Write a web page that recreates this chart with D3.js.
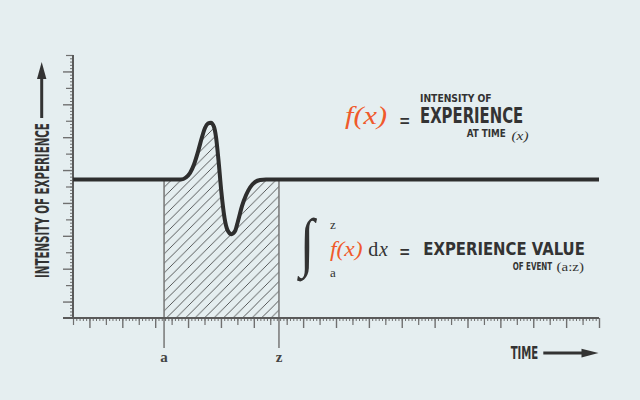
<!DOCTYPE html>
<html>
<head>
<meta charset="utf-8">
<script src="https://cdn.jsdelivr.net/npm/d3@7"></script>
<style>
  html, body { margin: 0; padding: 0; background: #e5eef0; }
  svg { display: block; }
</style>
</head>
<body>
<svg id="chart" width="640" height="400"></svg>
<script>
// ---- data ----
const timeValues = [0, 5.54, 6.57, 6.87, 7.12, 7.36, 7.60, 7.85, 8.03, 8.21, 8.39, 8.58, 8.70, 8.85,
  9.02, 9.22, 9.40, 9.64, 9.86, 10.04, 10.28, 10.53, 10.77, 11.07, 11.38, 11.74, 12.53, 32];
const intensityValues = [8.43, 8.43, 8.43, 8.55, 8.82, 9.34, 10.10, 11.01, 11.56, 11.83, 11.88, 11.62, 11.01, 9.61,
  7.73, 6.08, 5.35, 5.10, 5.29, 5.90, 6.81, 7.48, 7.94, 8.27, 8.40, 8.43, 8.43, 8.43];
const eventStart = 5.54;   // a
const eventEnd = 12.53;    // z
const eventLabels = ["a", "z"];
const yAxisTitle = "INTENSITY OF EXPERIENCE";
const xAxisTitle = "TIME";
// long ruler ticks on the time axis (the ruler changes phase after z)
const xLongTicks = [1, 3, 5, 7, 9, 11, 14, 16, 18, 20, 22, 24, 26, 28, 30, 32];

const data = timeValues.map((t, i) => ({ t, v: intensityValues[i] }));

// ---- layout ----
const svg = d3.select("#chart");
const ink = "#2e2e2e";
const tickCol = "#707070";
const orange = "#f05a2b";
const condensed = "'Liberation Sans Narrow', 'DejaVu Sans Condensed', 'Roboto', sans-serif";
const serif = "'Liberation Serif', 'DejaVu Serif', serif";

const x = d3.scaleLinear().domain([0, 32]).range([73, 599]);
const y = d3.scaleLinear().domain([0, 16]).range([318, 55]);

svg.append("rect").attr("width", 640).attr("height", 400).attr("fill", "#e5eef0");

// hatch pattern
const defs = svg.append("defs");
const hw = 9.5;
defs.append("pattern")
  .attr("id", "hatch").attr("patternUnits", "userSpaceOnUse")
  .attr("width", hw).attr("height", hw)
  .append("path")
  .attr("d", `M-1,1 l2,-2 M0,${hw} l${hw},${-hw} M${hw - 1},${hw + 1} l2,-2`)
  .attr("stroke", "#333").attr("stroke-width", 0.8);

// hatched area between a and z
const inside = data.filter(d => d.t >= eventStart - 1e-9 && d.t <= eventEnd + 1e-9);
const area = d3.area().x(d => x(d.t)).y0(y(0)).y1(d => y(d.v)).curve(d3.curveMonotoneX);
svg.append("path").datum(inside).attr("d", area).attr("fill", "url(#hatch)");

// a / z guide lines
[eventStart, eventEnd].forEach((t, i) => {
  svg.append("line")
    .attr("x1", x(t)).attr("x2", x(t))
    .attr("y1", y(8.43)).attr("y2", 348)
    .attr("stroke", "#777").attr("stroke-width", 1.5);
  svg.append("text")
    .attr("x", x(t)).attr("y", 362)
    .attr("text-anchor", "middle")
    .attr("font-family", serif).attr("font-size", 15).attr("font-weight", "bold")
    .attr("fill", "#444").text(eventLabels[i]);
});

// ---- axes (three tick tiers) ----
const minorT = d3.range(0, 161).map(i => i / 5);
const longT = xLongTicks;
const medT = d3.range(0, 33).filter(i => !longT.includes(i));
const yMinorT = d3.range(0, 81).map(i => i / 5);
const yMedT = d3.range(0, 17).filter(i => i % 2 === 0);
const yLongT = d3.range(0, 17).filter(i => i % 2 === 1);

function drawAxis(axisFn, scale, vals, size, transform, width) {
  const g = svg.append("g").attr("transform", transform)
    .call(axisFn(scale).tickValues(vals).tickSize(size).tickFormat(""));
  g.select(".domain").remove();
  g.selectAll(".tick line").attr("stroke", tickCol).attr("stroke-width", width);
}
drawAxis(d3.axisBottom, x, minorT, 3, `translate(0,${y(0)})`, 1);
drawAxis(d3.axisBottom, x, medT, 7, `translate(0,${y(0)})`, 1.2);
drawAxis(d3.axisBottom, x, longT, 10, `translate(0,${y(0)})`, 1.4);
drawAxis(d3.axisLeft, y, yMinorT.filter(v => v > 0), 3, `translate(${x(0)},0)`, 1);
drawAxis(d3.axisLeft, y, yMedT.filter(v => v > 0), 7, `translate(${x(0)},0)`, 1.2);
drawAxis(d3.axisLeft, y, yLongT, 10, `translate(${x(0)},0)`, 1.4);

// axis lines
svg.append("line").attr("x1", 63).attr("x2", x(32)).attr("y1", y(0)).attr("y2", y(0))
  .attr("stroke", "#5a5a5a").attr("stroke-width", 2);
svg.append("line").attr("x1", x(0)).attr("x2", x(0)).attr("y1", y(16)).attr("y2", y(0))
  .attr("stroke", "#5a5a5a").attr("stroke-width", 2);

// ---- the experience curve ----
const line = d3.line().x(d => x(d.t)).y(d => y(d.v)).curve(d3.curveMonotoneX);
svg.append("path").datum(data).attr("d", line)
  .attr("fill", "none").attr("stroke", ink).attr("stroke-width", 4)
  .attr("stroke-linejoin", "round");

// ---- text helper: fits a text to a measured width by horizontal scaling ----
function txt(xp, yp, s, size, opts = {}) {
  const t = svg.append("text")
    .attr("font-family", opts.family || condensed)
    .attr("font-size", size)
    .attr("font-weight", opts.weight || "bold")
    .attr("font-style", opts.style || "normal")
    .attr("fill", opts.fill || "#333")
    .attr("text-anchor", opts.anchor || "start")
    .text(s);
  if (opts.transform) {
    t.attr("transform", opts.transform);
  } else if (opts.len) {
    const natural = t.node().getComputedTextLength() || opts.len;
    const sx = opts.len / natural;
    t.attr("transform", `translate(${xp},${yp}) ${opts.rotate ? `rotate(${opts.rotate})` : ""} scale(${sx},1)`);
  } else {
    t.attr("x", xp).attr("y", yp);
  }
  return t;
}

// ---- axis titles with arrows ----
txt(49, 278, yAxisTitle, 19, { len: 155, rotate: -90 });
svg.append("line").attr("x1", 41.7).attr("x2", 41.7).attr("y1", 118).attr("y2", 78)
  .attr("stroke", "#333").attr("stroke-width", 3);
svg.append("path").attr("d", "M37,79 L46.4,79 L41.7,62 Z").attr("fill", "#333");

txt(510.7, 359.3, xAxisTitle, 18, { len: 27.6 });
svg.append("line").attr("x1", 543.3).attr("x2", 583).attr("y1", 353).attr("y2", 353)
  .attr("stroke", "#333").attr("stroke-width", 3);
svg.append("path").attr("d", "M581.5,348.8 L581.5,357.4 L598.5,353 Z").attr("fill", "#333");

// ---- formula 1 ----
txt(345, 124, "f(x)", 25, { family: serif, style: "italic", weight: "normal", fill: orange, len: 42 });
txt(404.7, 126.5, "=", 17, { family: "'Liberation Sans', sans-serif", anchor: "middle" });
txt(420, 101.6, "INTENSITY OF", 10.5, { len: 71.7 });
txt(420, 123.3, "EXPERIENCE", 20.5, { len: 103.3 });
txt(466.7, 137.3, "AT TIME", 10, { len: 39 });
txt(511.5, 139.5, "(x)", 12.5, { family: serif, style: "italic", weight: "normal", len: 17 });

// ---- formula 2 ----
txt(0, 0, "∫", 62, { family: serif, style: "italic", weight: "normal",
  transform: "translate(300,264) scale(0.85,1.05)" });
txt(330, 228.5, "z", 13, { family: serif, weight: "normal" });
txt(330, 276.7, "a", 13, { family: serif, weight: "normal" });
txt(330, 256, "f(x)", 20, { family: serif, style: "italic", weight: "normal", fill: orange, len: 32.7 });
txt(368.3, 256, "d", 20, { family: serif, weight: "normal" });
txt(379, 256, "x", 20, { family: serif, style: "italic", weight: "normal" });
txt(404.7, 258, "=", 17, { family: "'Liberation Sans', sans-serif", anchor: "middle" });
txt(423.3, 255, "EXPERIENCE VALUE", 18.5, { len: 161.7 });
txt(512.7, 270, "OF EVENT", 10, { len: 39.5 });
txt(556.5, 271, "(a:z)", 11.5, { family: serif, weight: "normal", len: 27.5 });
</script>
</body>
</html>
